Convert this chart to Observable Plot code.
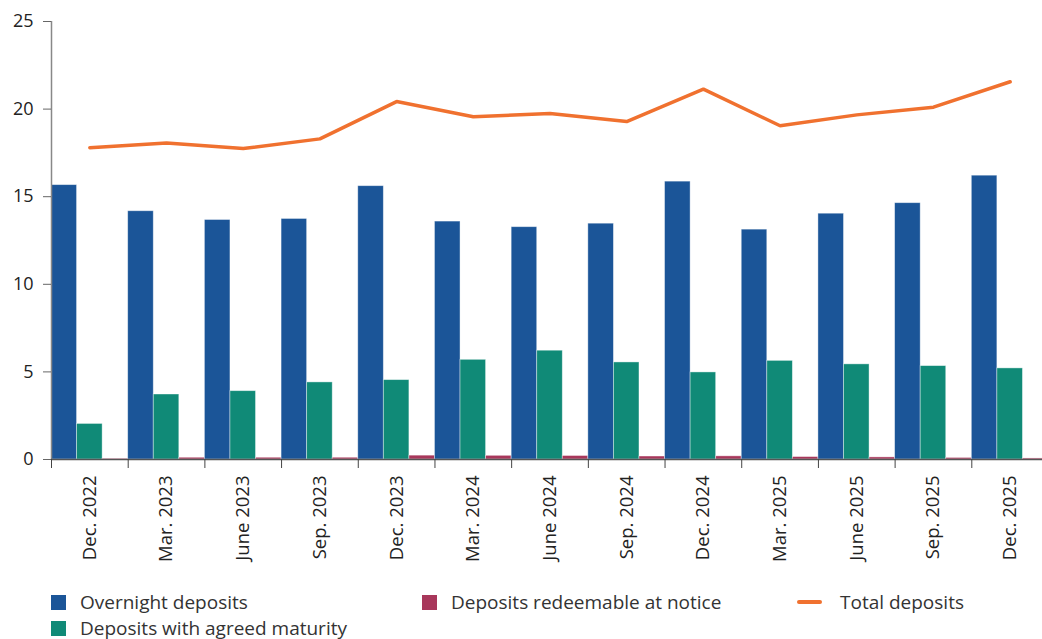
<!DOCTYPE html>
<html>
<head>
<meta charset="utf-8">
<script src="https://cdn.jsdelivr.net/npm/d3@7"></script>
<script src="https://cdn.jsdelivr.net/npm/@observablehq/plot@0.6"></script>
<style>
  html, body { margin: 0; padding: 0; background: #fff; overflow: hidden; }
  body { width: 1042px; height: 639px; font-family: "Open Sans", sans-serif; }
  #chart { width: 1042px; height: 585px; overflow: hidden; }
  #chart svg { display: block; max-width: none !important; }
  .legend { display: grid; grid-template-columns: 371px 375px 200px; padding-left: 51px; margin-top: 4px; color: #333; font-size: 19px; line-height: 26px; }
  .item { display: flex; align-items: center; white-space: nowrap; }
  .sw { width: 15px; height: 15px; margin-right: 14px; flex: none; }
  .ln { width: 25px; height: 3.5px; margin-right: 18px; flex: none; border-radius: 2px; }
</style>
</head>
<body>
<div id="chart"></div>
<div class="legend" id="legend"></div>
<script>
const categories = ["Dec. 2022","Mar. 2023","June 2023","Sep. 2023","Dec. 2023","Mar. 2024","June 2024","Sep. 2024","Dec. 2024","Mar. 2025","June 2025","Sep. 2025","Dec. 2025"];
const overnight = [15.66,14.17,13.67,13.73,15.6,13.58,13.26,13.46,15.86,13.12,14.03,14.63,16.2];
const agreed    = [2.03,3.71,3.9,4.4,4.53,5.69,6.21,5.54,4.97,5.63,5.43,5.33,5.2];
const notice    = [0.04,0.1,0.1,0.1,0.22,0.21,0.2,0.17,0.18,0.14,0.12,0.09,0.06];
const total     = [17.8,18.06,17.75,18.3,20.43,19.56,19.75,19.29,21.14,19.05,19.67,20.11,21.56];
const seriesNames = ["Overnight deposits","Deposits with agreed maturity","Deposits redeemable at notice"];
const seriesColors = ["#1b5598","#108a77","#a8375b"];
const lineName = "Total deposits";
const lineColor = "#f0712f";
const yTicks = [0,5,10,15,20,25];

const seriesValues = [overnight, agreed, notice];
const rows = [];
categories.forEach((c, i) => {
  seriesValues.forEach((vals, k) => {
    rows.push({cat: c, series: seriesNames[k], x1: i + k/3, x2: i + (k+1)/3, y: vals[i]});
  });
});
const lineRows = total.map((v, i) => ({x: i + 0.5, y: v}));

const chart = Plot.plot({
  width: 1048,
  height: 585,
  marginLeft: 51,
  marginRight: 0,
  marginTop: 21,
  marginBottom: 126,
  style: {fontFamily: "Open Sans, sans-serif", fontSize: "18px", background: "#fff", maxWidth: "none"},
  x: {domain: [0, categories.length], axis: null},
  y: {domain: [0, 25], axis: null},
  color: {domain: seriesNames, range: seriesColors},
  marks: [
    Plot.rectY(rows, {x1: "x1", x2: "x2", y: "y", fill: "series", stroke: "#fff", strokeOpacity: 0.5, strokeWidth: 0.8}),
    Plot.ruleX([0], {stroke: "#888", strokeWidth: 1.5}),
    Plot.ruleY([0], {stroke: "#555", strokeWidth: 1.5}),
    Plot.axisY({ticks: yTicks, tickSize: 8, tickPadding: 10, fontSize: 18, stroke: "#666", fill: "#222", label: null}),
    Plot.axisX({ticks: d3.range(0, categories.length + 1), tickFormat: () => "", tickSize: 9, stroke: "#444", label: null}),
    Plot.axisX({ticks: d3.range(categories.length).map(i => i + 0.5), tickFormat: v => categories[Math.floor(v)], tickSize: 0, tickPadding: 16, tickRotate: -90, fontSize: 18.5, fill: "#222", label: null}),
    Plot.line(lineRows, {x: "x", y: "y", stroke: lineColor, strokeWidth: 3.5, strokeLinejoin: "miter"})
  ]
});
document.getElementById("chart").appendChild(chart);

const legend = document.getElementById("legend");
const items = [
  {name: seriesNames[0], color: seriesColors[0], type: "sw"},
  {name: seriesNames[2], color: seriesColors[2], type: "sw"},
  {name: lineName, color: lineColor, type: "ln"},
  {name: seriesNames[1], color: seriesColors[1], type: "sw"}
];
items.forEach(it => {
  const d = document.createElement("div");
  d.className = "item";
  const s = document.createElement("span");
  s.className = it.type;
  s.style.background = it.color;
  d.appendChild(s);
  const t = document.createElement("span");
  t.textContent = it.name;
  d.appendChild(t);
  legend.appendChild(d);
});
</script>
</body>
</html>
